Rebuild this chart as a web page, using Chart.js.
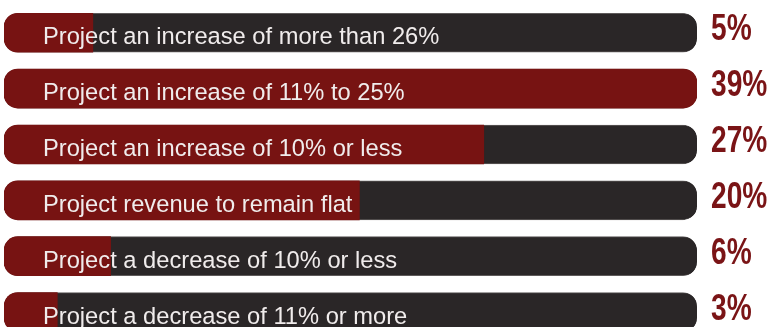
<!DOCTYPE html>
<html>
<head>
<meta charset="utf-8">
<script src="https://cdn.jsdelivr.net/npm/chart.js@4/dist/chart.umd.min.js"></script>
<style>
  html, body { margin: 0; padding: 0; background: #ffffff; overflow: hidden; }
  #wrap { position: relative; width: 772px; height: 340px; }
</style>
</head>
<body>
<div id="wrap"><canvas id="revenueChart"></canvas></div>
<script>
// Revenue outlook answers, top to bottom
const categories = [
  'Project an increase of more than 26%',
  'Project an increase of 11% to 25%',
  'Project an increase of 10% or less',
  'Project revenue to remain flat',
  'Project a decrease of 10% or less',
  'Project a decrease of 11% or more'
];
const shares = [5, 39, 27, 20, 6, 3];
const scaleMax = 39;                       // largest answer fills the whole track
const track = categories.map(() => scaleMax);
const shareLabels = shares.map(v => v + '%');

const RED = '#771312';
const DARK = '#2a2627';
const RADIUS = 14;

// white answer text inside each bar and the red percentage on the right
const barText = {
  id: 'barText',
  afterDatasetsDraw(chart) {
    const ctx = chart.ctx;
    const bars = chart.getDatasetMeta(1).data;
    ctx.save();
    bars.forEach((bar, i) => {
      ctx.fillStyle = '#f0ecec';
      ctx.font = "23.7px 'Liberation Sans', Arial, sans-serif";
      ctx.textBaseline = 'alphabetic';
      ctx.textAlign = 'left';
      ctx.fillText(categories[i], chart.chartArea.left + 39, bar.y + 11.5);

      // squeezed bold figures, the narrow face is not available
      ctx.save();
      ctx.translate(chart.chartArea.right + 14, bar.y + 7.5);
      ctx.scale(0.76, 1);
      ctx.fillStyle = '#7a1416';
      ctx.font = "bold 37px 'Liberation Sans', Arial, sans-serif";
      ctx.fillText(shareLabels[i], 0, 0);
      ctx.restore();
    });
    ctx.restore();
  }
};

new Chart(document.getElementById('revenueChart'), {
  type: 'bar',
  data: {
    labels: categories,
    datasets: [
      {
        label: 'Share',
        data: shares,
        backgroundColor: RED,
        borderWidth: 0,
        borderSkipped: false,
        grouped: false,
        order: 0,
        barThickness: 39,
        borderRadius: (c) => {
          const full = c.raw >= scaleMax;
          return { topLeft: RADIUS, bottomLeft: RADIUS, topRight: full ? RADIUS : 0, bottomRight: full ? RADIUS : 0 };
        }
      },
      {
        label: 'Track',
        data: track,
        backgroundColor: DARK,
        borderColor: '#5e5a5a',
        borderWidth: { top: 1, bottom: 1, left: 0, right: 0 },
        borderSkipped: false,
        grouped: false,
        order: 1,
        barThickness: 39,
        borderRadius: RADIUS
      }
    ]
  },
  options: {
    indexAxis: 'y',
    responsive: true,
    maintainAspectRatio: false,
    animation: false,
    events: [],
    layout: { padding: { left: 4, right: 75, top: 4.8, bottom: 0 } },
    plugins: {
      legend: { display: false },
      tooltip: { enabled: false }
    },
    scales: {
      x: { display: false, min: 0, max: scaleMax },
      y: { display: false }
    }
  },
  plugins: [barText]
});
</script>
</body>
</html>
